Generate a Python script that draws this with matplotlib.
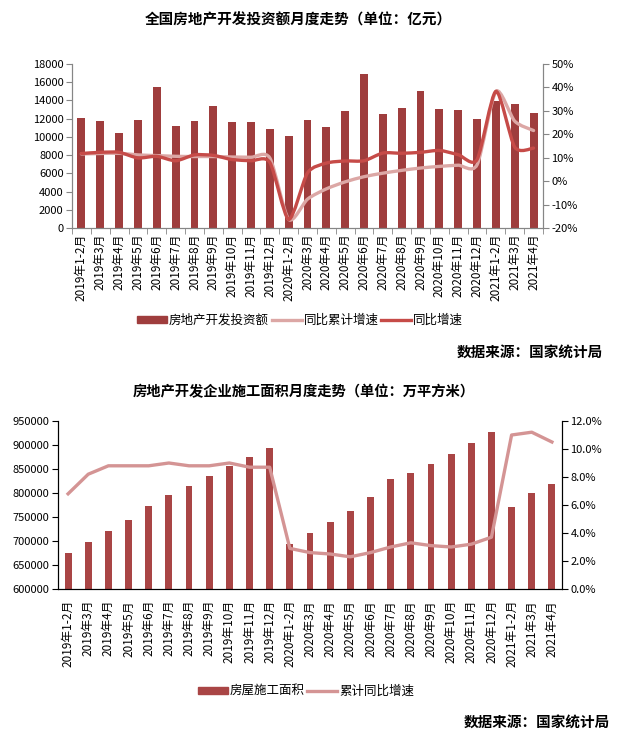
import matplotlib
matplotlib.use("Agg")
import matplotlib.pyplot as plt
import numpy as np
from matplotlib.path import Path
from matplotlib.patches import PathPatch
from matplotlib.lines import Line2D
from matplotlib.ticker import FuncFormatter

plt.rcParams['font.family'] = ['Noto Sans CJK SC', 'DejaVu Sans']
plt.rcParams['axes.unicode_minus'] = False

months = ["2019年1-2月", "2019年3月", "2019年4月", "2019年5月", "2019年6月", "2019年7月",
          "2019年8月", "2019年9月", "2019年10月", "2019年11月", "2019年12月",
          "2020年1-2月", "2020年3月", "2020年4月", "2020年5月", "2020年6月", "2020年7月",
          "2020年8月", "2020年9月", "2020年10月", "2020年11月", "2020年12月",
          "2021年1-2月", "2021年3月", "2021年4月"]

# 房地产开发投资额 (亿元)
invest = [12050, 11750, 10400, 11850, 15500, 11150, 11750, 13400, 11600, 11600, 10850,
          10100, 11850, 11050, 12850, 16850, 12500, 13150, 15050, 13050, 12950, 11950,
          13950, 13600, 12600]
# 同比累计增速 (%)
invest_cum = [11.6, 11.8, 11.9, 11.2, 10.9, 10.6, 10.5, 10.5, 10.3, 10.2, 9.9,
              -16.3, -7.7, -3.3, -0.3, 1.9, 3.4, 4.6, 5.6, 6.3, 6.8, 7.0,
              38.3, 25.6, 21.6]
# 同比增速 (%)
invest_mom = [11.8, 12.3, 12.3, 9.9, 10.6, 8.7, 11.2, 11.0, 9.2, 8.7, 8.0,
              -16.3, 3.5, 7.7, 8.6, 8.7, 12.0, 11.9, 12.3, 13.1, 11.3, 9.2,
              38.3, 14.5, 14.1]

# 房屋施工面积 (万平方米)
area = [675800, 698800, 721800, 744700, 771900, 794800, 813600, 834500, 855400, 874100, 892900,
        694600, 717600, 740500, 763500, 792700, 828200, 840700, 859500, 880400, 903400, 926300,
        769800, 799000, 817800]
# 累计同比增速 (%)
area_cum = [6.8, 8.2, 8.8, 8.8, 8.8, 9.0, 8.8, 8.8, 9.0, 8.7, 8.7,
            2.9, 2.6, 2.5, 2.3, 2.6, 3.0, 3.3, 3.1, 3.0, 3.2, 3.7,
            11.0, 11.2, 10.5]


def smooth_path(xs, ys, k=1 / 8):
    # smoothed line like Excel: cardinal spline segments as cubic Bezier curves
    xs = np.asarray(xs, float)
    ys = np.asarray(ys, float)
    verts = [(xs[0], ys[0])]
    codes = [Path.MOVETO]
    n = len(xs)
    for i in range(n - 1):
        x0, y0 = (xs[i - 1], ys[i - 1]) if i > 0 else (xs[i], ys[i])
        x3, y3 = (xs[i + 2], ys[i + 2]) if i + 2 < n else (xs[i + 1], ys[i + 1])
        c1 = (xs[i] + (xs[i + 1] - x0) * k, ys[i] + (ys[i + 1] - y0) * k)
        c2 = (xs[i + 1] - (x3 - xs[i]) * k, ys[i + 1] - (y3 - ys[i]) * k)
        verts += [c1, c2, (xs[i + 1], ys[i + 1])]
        codes += [Path.CURVE4] * 3
    return Path(verts, codes)


fig = plt.figure(figsize=(6.21, 7.44), dpi=100)
x = np.arange(len(months))

# ---------- top chart ----------
bar1 = "#9F3D3D"
dark1 = "#C64B48"
light1 = "#DCA7A5"
gray = "#868686"

ax1 = fig.add_axes([72 / 621, 1 - 228 / 744, (543 - 72) / 621, (228 - 64) / 744])
ax1.bar(x, invest, width=0.42, color=bar1, zorder=2)
ax1.set_xlim(-0.5, len(months) - 0.5)
ax1.set_ylim(0, 18000)
ax1.set_yticks(np.arange(0, 18001, 2000))
ax1.set_xticks(x)
ax1.set_xticklabels(months, rotation=90, fontsize=8.5)
ax1.set_xticks(np.arange(-0.5, len(months), 1), minor=True)
ax1.tick_params(axis='x', which='major', length=0, pad=4)
ax1.tick_params(axis='x', which='minor', length=4, color=gray)
ax1.tick_params(axis='y', length=4, color=gray, labelsize=8, pad=2)
for s in ['left', 'bottom', 'right']:
    ax1.spines[s].set_color(gray)
ax1.spines['top'].set_visible(False)

ax1r = ax1.twinx()
ax1r.set_ylim(-20, 50)
ax1r.set_yticks(np.arange(-20, 51, 10))
ax1r.yaxis.set_major_formatter(FuncFormatter(lambda v, p: f"{v:.0f}%"))
ax1r.tick_params(axis='y', length=4, color=gray, labelsize=8, pad=2)
for s in ['left', 'bottom', 'right']:
    ax1r.spines[s].set_color(gray)
ax1r.spines['top'].set_visible(False)
ax1r.add_patch(PathPatch(smooth_path(x, invest_cum), fill=False, edgecolor=light1,
                         lw=2.4, capstyle='round', zorder=3))
ax1r.add_patch(PathPatch(smooth_path(x, invest_mom), fill=False, edgecolor=dark1,
                         lw=2.4, capstyle='round', zorder=4))

fig.text(298 / 621, 1 - 20 / 744, "全国房地产开发投资额月度走势（单位：亿元）",
         ha='center', va='center', fontsize=10.5, fontweight='bold')
h1 = [plt.Rectangle((0, 0), 1, 1, color=bar1),
      Line2D([], [], color=light1, lw=2.4),
      Line2D([], [], color=dark1, lw=2.4)]
fig.legend(h1, ["房地产开发投资额", "同比累计增速", "同比增速"], loc='center',
           bbox_to_anchor=(300 / 621, 1 - 320 / 744), ncol=3, frameon=False,
           fontsize=9, handlelength=2.4, handleheight=0.5, handletextpad=0.15,
           columnspacing=0.2)
fig.text(603 / 621, 1 - 353 / 744, "数据来源：国家统计局", ha='right', va='center',
         fontsize=10.5, fontweight='bold')

# ---------- bottom chart ----------
bar2 = "#A94545"
line2 = "#D49494"

ax2 = fig.add_axes([58 / 621, 1 - 589 / 744, (562 - 58) / 621, (589 - 421) / 744])
ax2.bar(x, area, width=0.34, color=bar2, zorder=2)
ax2.set_xlim(-0.5, len(months) - 0.5)
ax2.set_ylim(600000, 950000)
ax2.set_yticks(np.arange(600000, 950001, 50000))
ax2.set_xticks(x)
ax2.set_xticklabels(months, rotation=90, fontsize=8.5)
ax2.tick_params(axis='x', length=0, pad=8)
ax2.tick_params(axis='y', length=4, labelsize=8, pad=2)
ax2.spines['top'].set_visible(False)

ax2r = ax2.twinx()
ax2r.set_ylim(0, 12)
ax2r.set_yticks(np.arange(0, 12.1, 2))
ax2r.yaxis.set_major_formatter(FuncFormatter(lambda v, p: f"{v:.1f}%"))
ax2r.tick_params(axis='y', length=4, labelsize=8, pad=2)
ax2r.spines['top'].set_visible(False)
ax2r.plot(x, area_cum, color=line2, lw=2.4, zorder=3)

fig.text(304 / 621, 1 - 392 / 744, "房地产开发企业施工面积月度走势（单位：万平方米）",
         ha='center', va='center', fontsize=10.3, fontweight='bold')
h2 = [plt.Rectangle((0, 0), 1, 1, color=bar2),
      Line2D([], [], color=line2, lw=2.4)]
fig.legend(h2, ["房屋施工面积", "累计同比增速"], loc='center',
           bbox_to_anchor=(306 / 621, 1 - 691 / 744), ncol=2, frameon=False,
           fontsize=9, handlelength=2.4, handleheight=0.5, handletextpad=0.15,
           columnspacing=0.2)
fig.text(610 / 621, 1 - 723 / 744, "数据来源：国家统计局", ha='right', va='center',
         fontsize=10.5, fontweight='bold')

fig.savefig("out.png", dpi=100)
